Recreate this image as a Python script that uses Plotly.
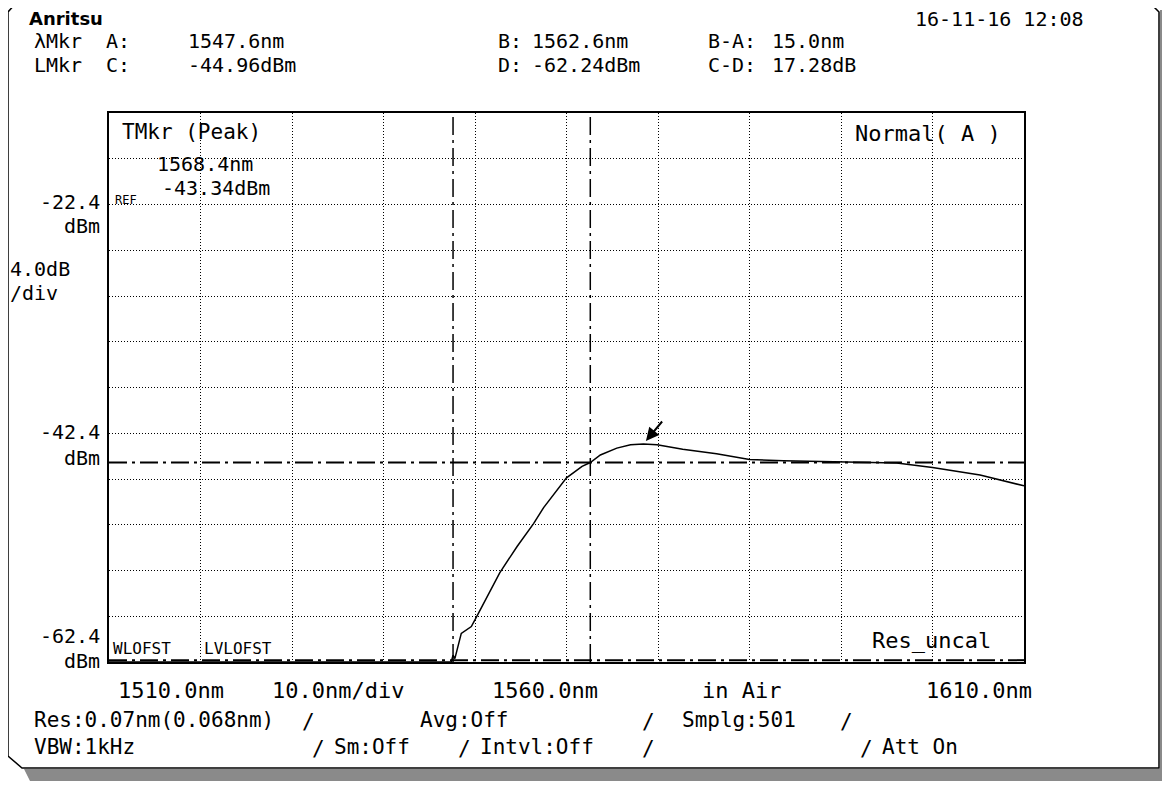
"""
Anritsu OSA 画面の再現 (1510-1610 nm, 4 dB/div)。
"""

import plotly.graph_objects as go

# --- データ ---
wavelength_nm = [1510.0, 1547.4, 1547.6, 1547.8, 1548.5, 1549.6, 1550.4, 1551.5, 1552.7,
                 1554.6, 1556.4, 1557.5, 1560.0, 1561.7, 1562.6, 1563.7, 1565.5, 1567.0,
                 1568.4, 1569.9, 1572.7, 1576.4, 1580.0, 1583.7, 1589.9, 1596.1, 1600.0,
                 1605.2, 1610.0]
level_dbm = [-62.4, -62.4, -61.8, -62.1, -59.9, -59.3, -58.1, -56.4, -54.6,
             -52.3, -50.3, -48.9, -46.3, -45.3, -44.96, -44.3, -43.7, -43.4,
             -43.34, -43.4, -43.8, -44.2, -44.7, -44.8, -44.9, -45.0, -45.4,
             -46.05, -47.0]

wl_markers = [1547.6, 1562.6]      # A, B
lvl_markers = [-44.96, -62.24]     # C, D
peak = (1568.4, -43.34)

x_range = [1510.0, 1610.0]
y_range = [-62.4, -14.4]

# 画面座標 (参照画像のピクセル)。ページ body の 8px 余白ぶんを差し引く
OFF = 8
W, H = 1170 - OFF, 789 - OFF
L, R, T, B = 109, 1024, 113, 662
MONO = "DejaVu Sans Mono"


def px(x):
    return (x - L) / (R - L)


def py(y):
    return (B - y) / (B - T)


def ann(text, x, y, size=20, anchor="left"):
    return dict(text=text, x=px(x), y=py(y), xref="paper", yref="paper",
                xanchor=anchor, yanchor="middle", showarrow=False,
                font=dict(family=MONO, size=size, color="black"))


fig = go.Figure()
fig.add_trace(go.Scatter(x=wavelength_nm, y=level_dbm, mode="lines",
                         line=dict(color="black", width=1.5), showlegend=False))

shapes = []
dashdot = "18px,5px,3px,5px"
for w in wl_markers:
    shapes.append(dict(type="line", xref="x", yref="paper", x0=w, x1=w, y0=0, y1=1,
                       line=dict(color="black", width=1.5, dash=dashdot)))
for lv in lvl_markers:
    shapes.append(dict(type="line", xref="paper", yref="y", x0=0, x1=1, y0=lv, y1=lv,
                       line=dict(color="black", width=2, dash=dashdot)))

# 外枠と影
shadow = "#8a8a8a"
shapes.append(dict(type="path", xref="paper", yref="paper", layer="below",
                   path=f"M{px(24)},{py(769)} L{px(1160)},{py(769)} L{px(1160)},{py(10)} "
                        f"L{px(1168)},{py(10)} L{px(1168)},{py(781)} L{px(30)},{py(781)} Z",
                   fillcolor=shadow, line=dict(width=0)))
shapes.append(dict(type="path", xref="paper", yref="paper", layer="below",
                   path=f"M{px(8)},{py(12)} L{px(16)},{py(3)} L{px(1150)},{py(3)} "
                        f"L{px(1159)},{py(12)} L{px(1159)},{py(768)} L{px(22)},{py(768)} "
                        f"L{px(8)},{py(756)} Z",
                   fillcolor="white", line=dict(color="black", width=1.5)))

annotations = [
    dict(text="<b>Anritsu</b>", x=px(27), y=py(18.5), xref="paper", yref="paper",
         xanchor="left", yanchor="middle", showarrow=False,
         font=dict(family="DejaVu Sans", size=18, color="black")),
    ann("16-11-16 12:08", 1086, 19),
    ann("λMkr", 32, 41), ann("A:", 104, 41), ann("1547.6nm", 186, 41),
    ann("B:", 496, 41), ann("1562.6nm", 530, 41),
    ann("B-A:", 706, 41), ann("15.0nm", 770, 41),
    ann("LMkr", 32, 65), ann("C:", 104, 65), ann("-44.96dBm", 186, 65),
    ann("D:", 496, 65), ann("-62.24dBm", 530, 65),
    ann("C-D:", 706, 65), ann("17.28dB", 770, 65),
    ann("-22.4", 102, 202, anchor="right"), ann("dBm", 102, 226, anchor="right"),
    ann("4.0dB", 8, 269), ann("/div", 8, 293),
    ann("-42.4", 102, 432, anchor="right"), ann("dBm", 102, 458, anchor="right"),
    ann("-62.4", 102, 636, anchor="right"), ann("dBm", 102, 661, anchor="right"),
    ann("TMkr (Peak)", 120, 132, size=21), ann("1568.4nm", 155, 164),
    ann("-43.34dBm", 160, 188),
    ann("REF", 113, 200, size=12),
    ann("Normal( A )", 853, 133, size=22),
    ann("WLOFST", 111, 648, size=16), ann("LVLOFST", 202, 648, size=16),
    ann("Res_uncal", 870, 640, size=22),
    ann("1510.0nm", 116, 690, size=22), ann("10.0nm/div", 270, 690, size=22),
    ann("1560.0nm", 490, 690, size=22), ann("in Air", 700, 690, size=22),
    ann("1610.0nm", 1034, 690, size=22, anchor="right"),
    ann("Res:0.07nm(0.068nm)", 32, 720, size=21), ann("/", 300, 722, size=21),
    ann("Avg:Off", 418, 720, size=21), ann("/", 640, 722, size=21),
    ann("Smplg:501", 680, 720, size=21), ann("/", 838, 722, size=21),
    ann("VBW:1kHz", 32, 747, size=21), ann("/", 310, 749, size=21),
    ann("Sm:Off", 332, 747, size=21), ann("/", 456, 749, size=21),
    ann("Intvl:Off", 478, 747, size=21), ann("/", 640, 749, size=21),
    ann("/", 858, 749, size=21), ann("Att On", 880, 747, size=21),
    dict(x=peak[0], y=peak[1], xref="x", yref="y", text="", showarrow=True,
         arrowhead=2, arrowsize=1.3, arrowwidth=2, arrowcolor="black",
         ax=20, ay=-24, standoff=4),
]
# 日付は右寄せ
annotations[1].update(xanchor="right")

axis_common = dict(showticklabels=False, ticks="", showgrid=True, gridcolor="black",
                   gridwidth=1, griddash="1px,2px", zeroline=False, showline=True,
                   mirror=True, linecolor="black", linewidth=2)

fig.update_layout(
    width=W, height=H, autosize=False,
    margin=dict(l=L - OFF, r=W - (R - OFF), t=T - OFF, b=H - (B - OFF), pad=0),
    paper_bgcolor="white", plot_bgcolor="white",
    xaxis=dict(range=x_range, dtick=10, tick0=1510, **axis_common),
    yaxis=dict(range=y_range, dtick=4, tick0=-62.4, **axis_common),
    shapes=shapes, annotations=annotations, showlegend=False,
)

fig.write_html("out.html")
